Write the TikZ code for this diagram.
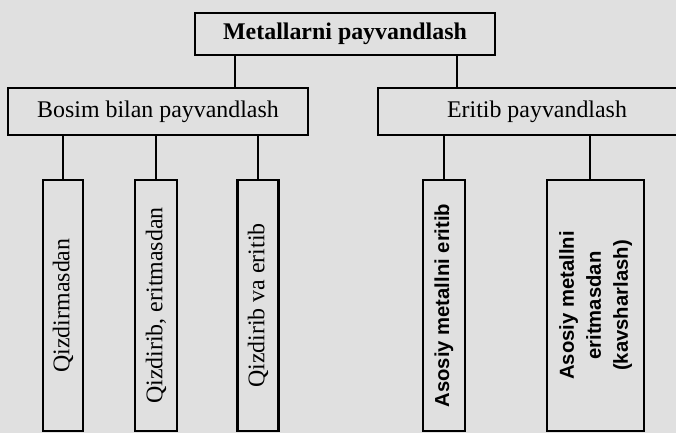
\documentclass[tikz,border=0pt]{standalone}
\usepackage{fontspec}
\setmainfont{Liberation Serif}
\setsansfont{Liberation Sans}
\usepackage{graphicx}

\begin{document}
\begin{tikzpicture}
[font=\fontsize{17}{20}\selectfont, draw=black, line width=1.6pt,
head/.style={rectangle, draw, inner sep=0pt, minimum width=7.5cm, minimum height=1.05cm, font=\fontsize{17}{20}\selectfont\bfseries},
group/.style={rectangle, draw, inner sep=0pt, minimum height=1.175cm},
leaf/.style={rectangle, draw, inner sep=0pt, minimum height=6.275cm},
leafsf/.style={leaf, font=\fontsize{14.4}{19.2}\selectfont\sffamily\bfseries}
]

\fill[black!12] (0,0) rectangle (16.9,10.825);
\useasboundingbox (0,0) rectangle (16.9,10.825);
\clip (0,0) rectangle (16.9,10.825);

\node[head] (metall) at (8.625,9.975) {Metallarni payvandlash};

\node[group, minimum width=7.5cm] (bosim) at (3.95,8.0375) {Bosim bilan payvandlash};
\node[group, minimum width=7.95cm] (eritib) at (13.425,8.0375) {Eritib payvandlash};

\draw ([xshift=-2.75cm]metall.south) -- ([xshift=-2.75cm]metall.south |- bosim.north);
\draw ([xshift=2.8cm]metall.south) -- ([xshift=2.8cm]metall.south |- eritib.north);

\node[leaf, minimum width=1.0cm] (leaf1) at (1.575,3.1875) {\rotatebox{90}{Qizdirmasdan}};
\node[leaf, minimum width=1.05cm] (leaf2) at (3.9,3.1875) {\rotatebox{90}{Qizdirib, eritmasdan}};
\node[leaf, minimum width=1.025cm] (leaf3) at (6.45,3.1875) {\rotatebox{90}{Qizdirib va eritib}};

\node[leafsf, minimum width=1.05cm] (leaf4) at (11.1,3.1875) {\rotatebox{90}{Asosiy metallni eritib}};
\node[leafsf, minimum width=2.425cm] (leaf5) at (14.8875,3.1875)
  {\rotatebox{90}{\begin{tabular}{@{}c@{}}Asosiy metallni\\eritmasdan\\(kavsharlash)\end{tabular}}};

\foreach \l in {leaf1,leaf2,leaf3,leaf4} {
  \draw (\l.north) -- (\l.north |- bosim.south);
}
\draw ([xshift=-0.14cm]leaf5.north) -- ([xshift=-0.14cm]leaf5.north |- eritib.south);

\end{tikzpicture}
\end{document}
